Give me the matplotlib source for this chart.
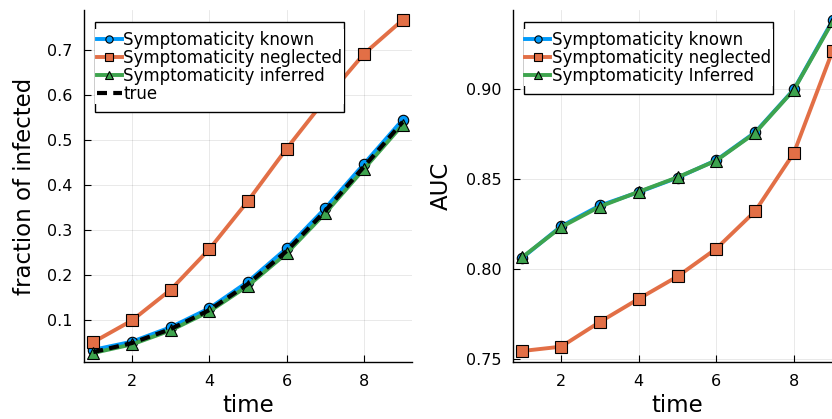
import matplotlib.pyplot as plt
from matplotlib.patches import Rectangle

# data
time = [1, 2, 3, 4, 5, 6, 7, 8, 9]

frac_known = [0.035, 0.053, 0.085, 0.127, 0.186, 0.260, 0.349, 0.447, 0.545]
frac_neglected = [0.052, 0.100, 0.168, 0.258, 0.365, 0.481, 0.590, 0.691, 0.766]
frac_inferred = [0.028, 0.047, 0.078, 0.120, 0.177, 0.249, 0.338, 0.436, 0.534]
frac_true = [0.030, 0.050, 0.081, 0.123, 0.181, 0.254, 0.343, 0.441, 0.540]

auc_known = [0.8062, 0.8237, 0.8352, 0.8426, 0.8506, 0.8603, 0.8757, 0.8995, 0.9378]
auc_neglected = [0.7546, 0.7570, 0.7707, 0.7835, 0.7959, 0.8113, 0.8320, 0.8643, 0.9210]
auc_inferred = [0.8066, 0.8232, 0.8346, 0.8428, 0.8508, 0.8601, 0.8754, 0.8993, 0.9372]

left_yticks = [0.1, 0.2, 0.3, 0.4, 0.5, 0.6, 0.7]
left_yticklabels = ["0.1", "0.2", "0.3", "0.4", "0.5", "0.6", "0.7"]
right_yticks = [0.75, 0.80, 0.85, 0.90]
right_yticklabels = ["0.75", "0.80", "0.85", "0.90"]
xticks = [2, 4, 6, 8]

# julia default palette
BLUE = "#009AFA"
ORANGE = "#E26F46"
GREEN = "#3EA44E"

plt.rcParams['font.family'] = ['DejaVu Sans']

fig = plt.figure(figsize=(8.32, 4.19), dpi=100)
ax1 = fig.add_axes([84 / 832, 57 / 419, 328 / 832, 352 / 419])
ax2 = fig.add_axes([513 / 832, 57 / 419, 329 / 832, 352 / 419])

VPAD = 7.5  # extra vertical padding of legend box, pixels


def style_axes(ax, yticks, yticklabels, ylim):
    ax.set_xlim(0.76, 9.24)
    ax.set_ylim(*ylim)
    ax.set_xticks(xticks)
    ax.set_xticklabels([str(t) for t in xticks])
    ax.set_yticks(yticks)
    ax.set_yticklabels(yticklabels)
    ax.spines['top'].set_visible(False)
    ax.spines['right'].set_visible(False)
    for s in ['left', 'bottom']:
        ax.spines[s].set_linewidth(1.0)
    ax.tick_params(direction='in', length=5, width=0.8, labelsize=11.5, pad=8.5)
    ax.grid(True, color='black', alpha=0.1, linewidth=0.6)
    ax.set_axisbelow(True)
    ax.set_xlabel("time", fontsize=16.5, labelpad=4)


def draw(ax, y, color, marker, ms, label):
    ax.plot(time, y, color=color, linewidth=2.8, marker=marker, markersize=ms,
            markerfacecolor=color, markeredgecolor='black', markeredgewidth=0.8,
            label=label)


def add_legend(ax, x0):
    leg = ax.legend(loc='upper left', bbox_to_anchor=(x0, 0.967 - VPAD / 352),
                    borderaxespad=0, fontsize=12, fancybox=False,
                    edgecolor='none', facecolor='white', framealpha=1,
                    labelspacing=0.0, handlelength=1.5, handletextpad=0.1,
                    borderpad=0.1, markerscale=0.7)
    leg.set_zorder(10)
    return leg


def legend_frame(ax, leg):
    # box around the legend, taller than the legend itself
    bb = leg.get_window_extent()
    bb = bb.from_extents(bb.x0, bb.y0 - VPAD, bb.x1, bb.y1 + VPAD)
    bb = bb.transformed(ax.transAxes.inverted())
    ax.add_patch(Rectangle((bb.x0, bb.y0), bb.width, bb.height,
                           transform=ax.transAxes, facecolor='white',
                           edgecolor='black', linewidth=1.0, zorder=9,
                           clip_on=False))


# 左圖: fraction of infected
draw(ax1, frac_known, BLUE, 'o', 7.5, "Symptomaticity known")
draw(ax1, frac_neglected, ORANGE, 's', 8.5, "Symptomaticity neglected")
draw(ax1, frac_inferred, GREEN, '^', 8, "Symptomaticity inferred")
ax1.plot(time, frac_true, color='black', linewidth=3, linestyle=(0, (2.4, 1.5)),
         label="true")
style_axes(ax1, left_yticks, left_yticklabels, (0.008, 0.788))
ax1.set_ylabel("fraction of infected", fontsize=16.5, labelpad=7.5)
leg1 = add_legend(ax1, 0.034)

# 右圖: AUC
draw(ax2, auc_known, BLUE, 'o', 7.5, "Symptomaticity known")
draw(ax2, auc_neglected, ORANGE, 's', 8.5, "Symptomaticity neglected")
draw(ax2, auc_inferred, GREEN, '^', 8, "Symptomaticity Inferred")
style_axes(ax2, right_yticks, right_yticklabels, (0.7485, 0.9435))
ax2.set_ylabel("AUC", fontsize=16.5, labelpad=9.5)
leg2 = add_legend(ax2, 0.032)

fig.canvas.draw()
legend_frame(ax1, leg1)
legend_frame(ax2, leg2)

fig.savefig("out.png", dpi=100)
